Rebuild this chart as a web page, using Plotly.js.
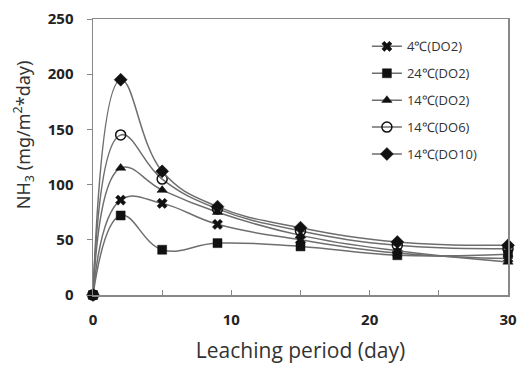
<!DOCTYPE html>
<html><head><meta charset="utf-8">
<script src="https://cdn.plot.ly/plotly-3.0.1.min.js"></script>
<style>html,body{margin:0;padding:0;background:#fff}#chart{width:518px;height:366px}</style>
</head><body><div id="chart"></div>
<script>
const days = [0, 2, 5, 9, 15, 22, 30];
const seriesNames = ["4℃(DO2)", "24℃(DO2)", "14℃(DO2)", "14℃(DO6)", "14℃(DO10)"];
const t4_DO2 = [0, 86, 83, 64, 50, 38, 33];
const t24_DO2 = [0, 72, 41, 47, 44, 36, 37];
const t14_DO2 = [0, 115, 95, 75, 54, 40, 30];
const t14_DO6 = [0, 145, 105, 78, 58, 45, 42];
const t14_DO10 = [0, 195, 112, 80, 61, 48, 45];
const allSeries = [t4_DO2, t24_DO2, t14_DO2, t14_DO6, t14_DO10];
const symbols = ["x", "square", "triangle-up", "circle-open", "diamond"];
const sizes = [9, 9, 9, 10, 10];
const yTitle = 'NH<sub>3</sub> (mg/m<sup>2</sup>*day)';

const traces = allSeries.map((ys, i) => ({
  x: days, y: ys, name: seriesNames[i], type: 'scatter', mode: 'lines+markers',
  legendgroup: 'g' + i,
  line: {shape: 'spline', smoothing: 1.2, color: '#6e6e6e', width: 1.5},
  marker: {symbol: symbols[i], size: sizes[i], color: '#111', line: {color: '#111', width: symbols[i]==='circle-open' ? 1.5 : 0.5}},
  cliponaxis: false
}));

const layout = {
  width: 518, height: 366,
  margin: {l: 93, r: 10, t: 19, b: 71},
  paper_bgcolor: '#fff', plot_bgcolor: '#fff',
  showlegend: true,
  legend: {x: 0.66, y: 0.955, xanchor: 'left', yanchor: 'top', bgcolor: 'rgba(0,0,0,0)',
    font: {family: 'Open Sans, sans-serif', size: 13, color: '#333'}, tracegroupgap: 7, itemwidth: 30},
  xaxis: {
    range: [0, 30], dtick: 10, tick0: 0, showgrid: false, zeroline: false,
    showline: true, linecolor: '#888', linewidth: 1.5, mirror: true,
    ticks: 'inside', ticklen: 5, tickcolor: '#888', ticklabelstandoff: 10,
    minor: {dtick: 5, ticks: 'inside', ticklen: 5, tickcolor: '#888'},
    tickfont: {family: 'Open Sans, sans-serif', size: 15, color: '#222', weight: 'bold'},
    title: {text: 'Leaching period (day)', font: {family: 'Open Sans, sans-serif', size: 21, color: '#333'}, standoff: 16}
  },
  yaxis: {
    range: [0, 250], dtick: 50, showgrid: false, zeroline: false,
    showline: true, linecolor: '#888', linewidth: 1.5, mirror: true,
    ticks: 'outside', ticklen: 5, tickcolor: '#888', ticklabelstandoff: 10,
    tickfont: {family: 'Open Sans, sans-serif', size: 15, color: '#222', weight: 'bold'}
  },
  annotations: [{
    text: yTitle, xref: 'paper', yref: 'paper', x: -0.168, y: 0.58,
    xanchor: 'center', yanchor: 'middle', textangle: -90, showarrow: false,
    font: {family: 'Noto Sans, sans-serif', size: 18, color: '#333'}
  }]
};
Plotly.newPlot('chart', traces, layout, {displayModeBar: false, staticPlot: true});
</script></body></html>
